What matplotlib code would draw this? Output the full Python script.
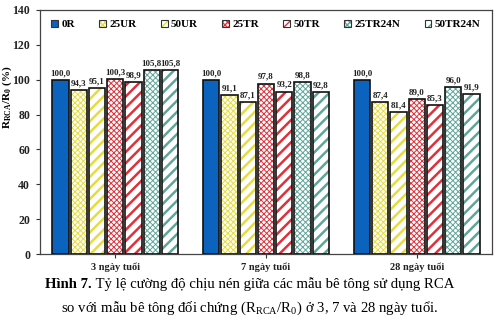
import matplotlib
matplotlib.use("Agg")
import matplotlib.pyplot as plt
import matplotlib.patches as mpatches
from matplotlib.legend_handler import HandlerTuple
import numpy as np

plt.rcParams['font.family'] = ['Liberation Serif', 'DejaVu Serif']
plt.rcParams['mathtext.fontset'] = 'custom'
plt.rcParams['mathtext.rm'] = 'Liberation Serif'
plt.rcParams['mathtext.bf'] = 'Liberation Serif:bold'

# Data
ages = ['3 ngày tuổi', '7 ngày tuổi', '28 ngày tuổi']
mixes = ['0R', '25UR', '50UR', '25TR', '50TR', '25TR24N', '50TR24N']
ratio = {
    '0R':      [100.0, 100.0, 100.0],
    '25UR':    [94.3, 91.1, 87.4],
    '50UR':    [95.1, 87.1, 81.4],
    '25TR':    [100.3, 97.8, 89.0],
    '50TR':    [98.9, 93.2, 85.3],
    '25TR24N': [105.8, 98.8, 96.0],
    '50TR24N': [105.8, 92.8, 91.9],
}

# face colour, hatch colour, hatch pattern, hatch line width
styles = {
    '0R':      ('#0B63BE', '#0B63BE', None, 1.0),
    '25UR':    ('white', '#E6DC3C', 'xxxxxx', 0.7),
    '50UR':    ('white', '#E6DC3C', '///', 1.8),
    '25TR':    ('white', '#E0313B', 'xxxxxx', 0.7),
    '50TR':    ('white', '#E0313B', '///', 1.8),
    '25TR24N': ('white', '#5FA699', 'xxxxxx', 0.7),
    '50TR24N': ('white', '#5FA699', '///', 1.8),
}

fig = plt.figure(figsize=(4.99, 3.30), dpi=100)
ax = fig.add_axes([0.080, 0.230, 0.906, 0.740])

x = np.arange(len(ages))
pitch = 0.121
width = 0.108
handles = []
for i, m in enumerate(mixes):
    fc, hc, hatch, hlw = styles[m]
    pos = x + (i - 3) * pitch
    bars = ax.bar(pos, ratio[m], width, color=fc, edgecolor=hc, hatch=hatch,
                  linewidth=0, zorder=2)
    for b in bars:
        if hasattr(b, 'set_hatch_linewidth'):
            b.set_hatch_linewidth(hlw)
    ax.bar(pos, ratio[m], width, facecolor='none', edgecolor='#111111',
           linewidth=1.2, zorder=3)
    for px, v in zip(pos, ratio[m]):
        ax.text(px, v + 1.5, f'{v:.1f}'.replace('.', ','), ha='center', va='bottom',
                fontsize=6.5, fontweight='bold', color='#222222')
    # legend swatch: hatched square with a dark outline
    sw = mpatches.Patch(facecolor=fc, edgecolor=hc, hatch=hatch, linewidth=0)
    if hasattr(sw, 'set_hatch_linewidth'):
        sw.set_hatch_linewidth(min(hlw, 1.0))
    box = mpatches.Patch(facecolor='none', edgecolor='#333333', linewidth=0.8)
    handles.append((sw, box))

ax.set_ylim(0, 140)
ax.set_xlim(-0.5, 2.5)
ax.set_yticks(range(0, 141, 20))
ax.set_xticks(x)
ax.set_xticklabels(ages, fontsize=7.5, fontweight='bold')
ax.tick_params(axis='y', length=3, direction='out', labelsize=8.5, pad=4,
               colors='#333333')
ax.tick_params(axis='x', length=3, direction='out', pad=3, colors='#333333')
for lbl in ax.get_yticklabels():
    lbl.set_fontweight('bold')
for lbl in ax.get_xticklabels() + ax.get_yticklabels():
    lbl.set_color('#222222')
for s in ax.spines.values():
    s.set_color('#444444')
    s.set_linewidth(0.9)

ax.set_ylabel(r'R$_{\mathbf{RCA}}$/R$_{\mathbf{0}}$ (%)', fontsize=8, fontweight='bold')
ax.yaxis.set_label_coords(-0.058, 0.643)

leg = ax.legend(handles=handles, labels=mixes, loc='upper center', ncol=7,
                frameon=False, bbox_to_anchor=(0.5, 1.0),
                handler_map={tuple: HandlerTuple(ndivide=1, pad=0)},
                prop={'weight': 'bold', 'size': 8},
                handlelength=0.6, handleheight=0.6, handletextpad=0.3,
                columnspacing=2.2, borderaxespad=0.5)

# Caption below the chart
fig.canvas.draw()
r = fig.canvas.get_renderer()
y1 = 1 - 284 / 330
y2 = 1 - 308 / 330
bold = fig.text(0, y1, 'Hình 7.', fontsize=10.6, fontweight='bold', va='center')
rest = fig.text(0, y1, ' Tỷ lệ cường độ chịu nén giữa các mẫu bê tông sử dụng RCA',
                fontsize=10.6, va='center')
wb = bold.get_window_extent(r).width / fig.bbox.width
wr = rest.get_window_extent(r).width / fig.bbox.width
x0 = 0.5 - (wb + wr) / 2
bold.set_x(x0)
rest.set_x(x0 + wb)
fig.text(0.5, y2, r'so với mẫu bê tông đối chứng (R$_\mathregular{RCA}$/R$_\mathregular{0}$) ở 3, 7 và 28 ngày tuổi.',
         fontsize=10.6, ha='center', va='center')

fig.savefig('out.png', dpi=100)
